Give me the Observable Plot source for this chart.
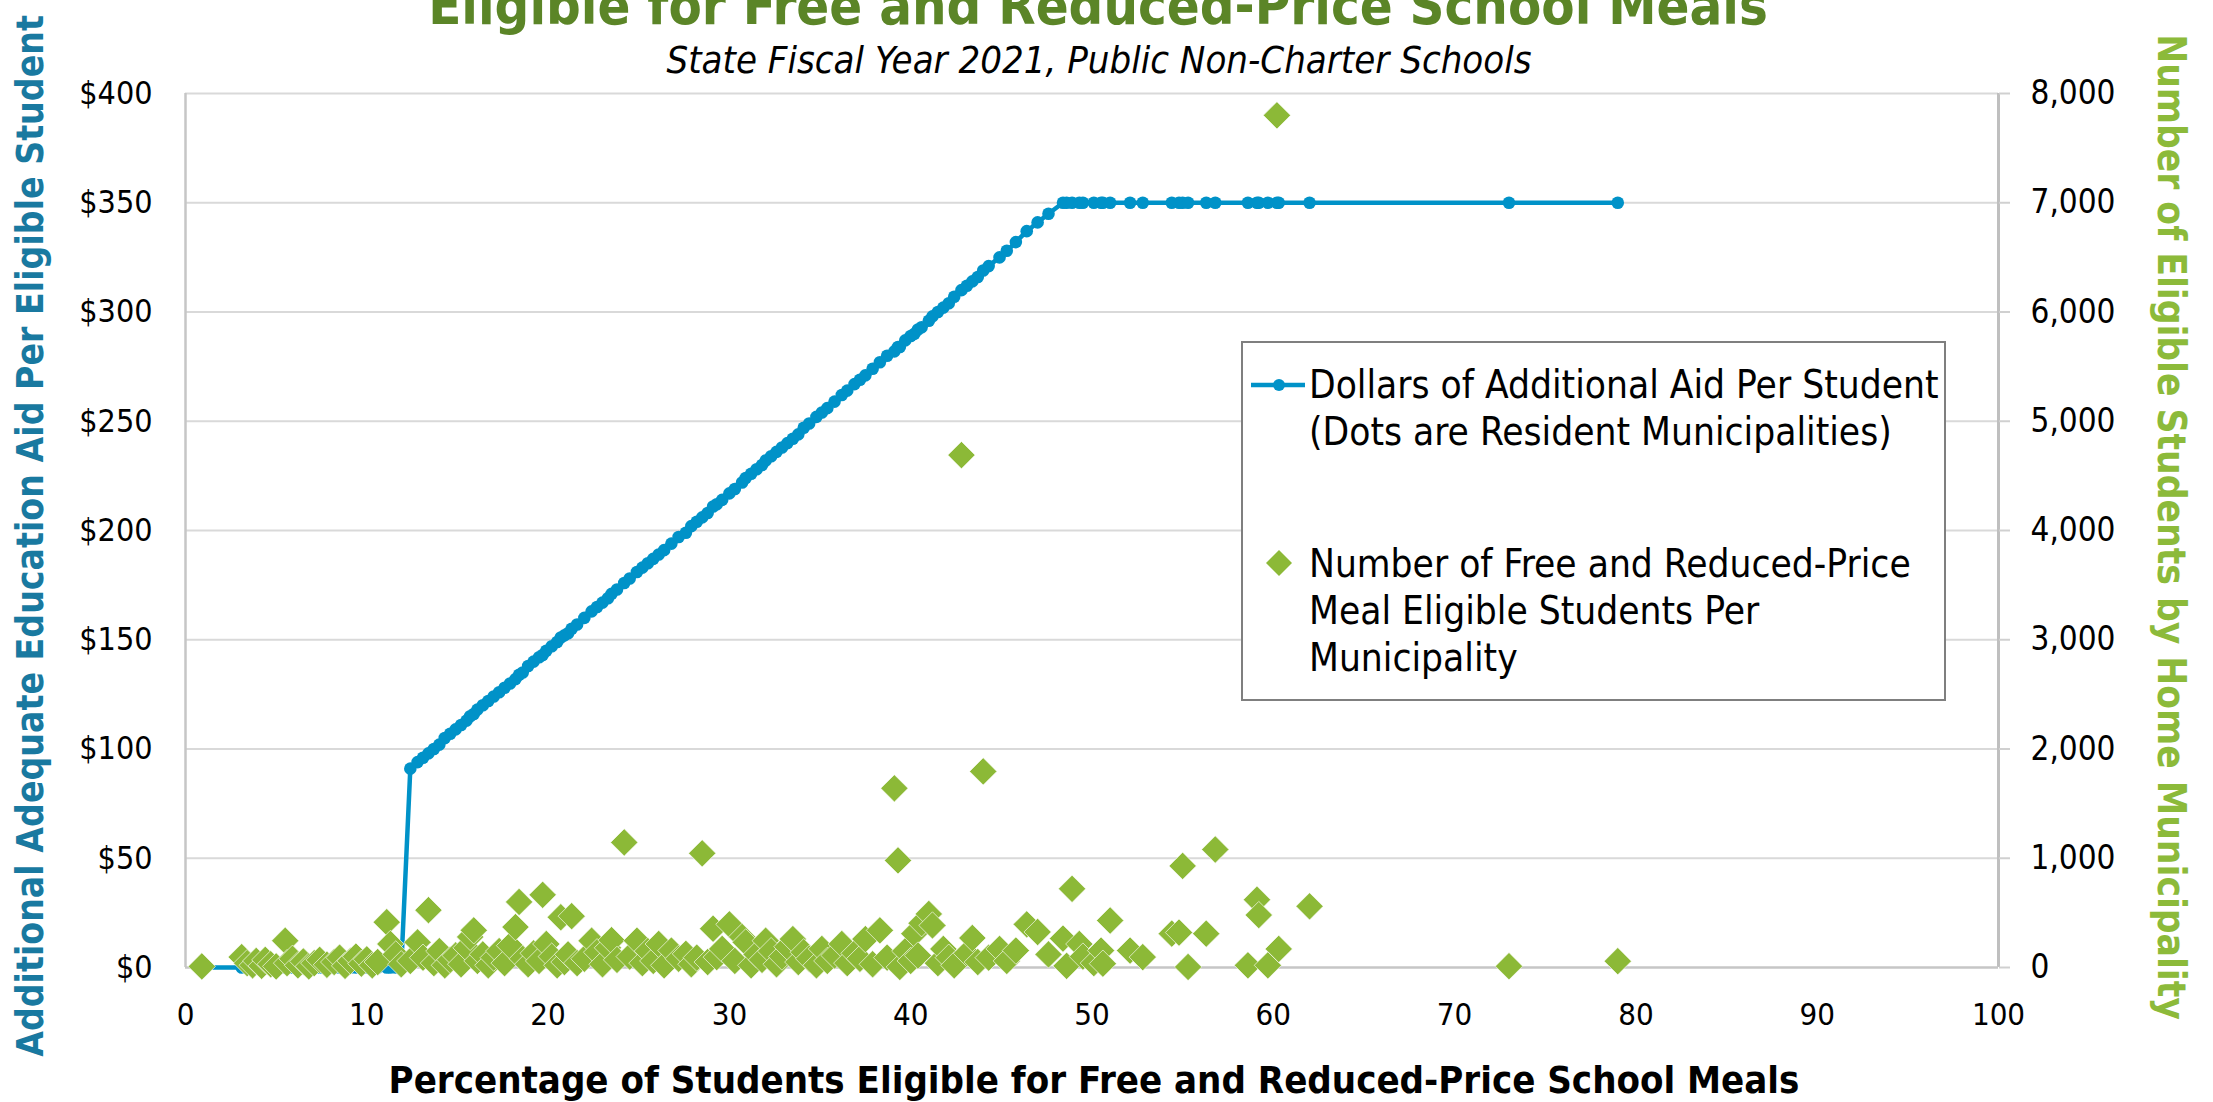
<!DOCTYPE html>
<html>
<head>
<meta charset="utf-8">
<script src="https://cdn.jsdelivr.net/npm/d3@7"></script>
<script src="https://cdn.jsdelivr.net/npm/@observablehq/plot@0.6"></script>
<style>
  html, body { margin: 0; padding: 0; background: #fff; overflow: hidden; }
  #wrap { position: relative; width: 2213px; height: 1102px; overflow: hidden; }
  #chart { position: absolute; left: 0; top: 0; }
  #overlay { position: absolute; left: 0; top: 0; pointer-events: none; }
  svg text { font-stretch: condensed; }
</style>
</head>
<body>
<div id="wrap">
  <div id="chart"></div>
  <svg id="overlay" width="2213" height="1102"></svg>
</div>
<script>
// ---- Data ----
// Percentage of students eligible for free/reduced-price meals (per resident municipality)
const pct = [
  0.9, 3.1, 3.4, 3.7, 3.9, 4.2, 4.4, 4.7, 5.0, 5.5, 5.6, 5.9, 6.2, 6.5, 6.8, 7.1, 7.4, 7.8, 8.2, 8.5,
  8.8, 9.1, 9.4, 9.7, 10.0, 10.3, 10.6, 11.1, 11.3, 11.6, 11.9,
  12.4, 12.8, 13.1, 13.4, 13.7, 14.0, 14.3, 14.6, 14.9, 15.2, 15.5, 15.7, 15.9, 16.1, 16.4, 16.7, 17.0, 17.3, 17.6, 17.9,
  18.2, 18.4, 18.6, 18.9, 19.2, 19.5, 19.7, 19.9, 20.2, 20.5, 20.7, 20.9, 21.1, 21.3, 21.6, 22.0, 22.4, 22.7, 23.0, 23.3,
  23.5, 23.8, 24.2, 24.5, 24.9, 25.2, 25.5, 25.8, 26.1, 26.4, 26.8, 27.2, 27.6, 27.9, 28.2, 28.5, 28.8, 29.1, 29.3, 29.6,
  30.0, 30.3, 30.7, 30.9, 31.2, 31.5, 31.8, 32.0, 32.3, 32.6, 32.9, 33.2, 33.5, 33.8, 34.1, 34.4, 34.8, 35.1, 35.4, 35.8,
  36.2, 36.5, 36.9, 37.2, 37.5, 37.9, 38.3, 38.7, 39.1, 39.3, 39.4, 39.7, 40.0, 40.2, 40.4, 40.6, 41.0, 41.2, 41.5, 41.8,
  42.1, 42.4, 42.8, 43.1, 43.4, 43.7, 44.0, 44.3, 44.9, 45.3, 45.8, 46.4, 47.0, 47.6,
  48.4, 48.6, 48.9, 49.3, 49.5, 50.1, 50.5, 50.6, 51.0, 52.1, 52.8, 54.4, 54.8, 55.0, 55.3, 56.3, 56.8, 58.6, 59.1, 59.2,
  59.7, 60.2, 60.3, 62.0, 73.0, 79.0
];
// Dollars of additional aid per eligible student (left axis)
const aid = [
  0, 0, 0, 0, 0, 0, 0, 0, 0, 0, 0, 0, 0, 0, 0, 0, 0, 0, 0, 0,
  0, 0, 0, 0, 0, 0, 0, 0, 0, 0, 0,
  91, 94, 96, 98, 100, 102, 105, 107, 109, 111, 113, 115, 116, 118, 120, 122, 124, 126, 128, 130,
  132, 134, 135, 138, 140, 142, 143, 145, 147, 149, 151, 152, 153, 155, 157, 160, 163, 165, 167, 169,
  171, 173, 176, 178, 181, 183, 185, 187, 189, 191, 194, 197, 199, 202, 204, 206, 208, 211, 212, 214,
  217, 219, 222, 224, 226, 228, 230, 232, 234, 236, 238, 240, 242, 244, 247, 249, 252, 254, 256, 259,
  262, 264, 267, 269, 271, 274, 277, 280, 282, 284, 284, 287, 289, 290, 292, 293, 296, 298, 300, 302,
  304, 307, 310, 312, 314, 316, 319, 321, 325, 328, 332, 337, 341, 345,
  350, 350, 350, 350, 350, 350, 350, 350, 350, 350, 350, 350, 350, 350, 350, 350, 350, 350, 350, 350,
  350, 350, 350, 350, 350, 350
];
// Number of free/reduced-price meal eligible students per municipality (right axis)
const students = [
  10, 95, 40, 20, 60, 15, 70, 30, 10, 245, 40, 80, 20, 55, 10, 40, 70, 25, 50, 90,
  15, 60, 100, 35, 75, 20, 50, 415, 215, 120, 30,
  60, 230, 90, 525, 40, 150, 20, 70, 110, 30, 180, 280, 340, 60, 120, 20, 90, 150, 40, 200,
  370, 600, 80, 30, 130, 60, 665, 215, 100, 20, 460, 50, 120, 470, 40, 80, 245, 140, 30, 180,
  250, 70, 1145, 100, 245, 40, 150, 60, 215, 20, 155, 80, 125, 30, 90, 1045, 50, 355, 95, 170,
  395, 60, 280, 230, 20, 120, 70, 245, 150, 30, 100, 190, 260, 50, 140, 80, 20, 170, 60, 110,
  215, 40, 130, 80, 260, 30, 340, 90, 1640, 980, 5, 150, 60, 310, 110, 405, 490, 385, 40, 170,
  90, 20, 4690, 130, 270, 50, 1795, 90, 170, 60, 155, 395, 325, 120,
  265, 15, 720, 215, 100, 40, 155, 35, 430, 155, 95, 310, 320, 930, 5, 310, 1080, 20, 620, 480,
  20, 7800, 170, 560, 12, 58
];

// Tick values
const xTicks = [0, 10, 20, 30, 40, 50, 60, 70, 80, 90, 100];
const aidTicks = [0, 50, 100, 150, 200, 250, 300, 350, 400];
const studentTicks = [0, 1000, 2000, 3000, 4000, 5000, 6000, 7000, 8000];

// Text
const titleText = "Eligible for Free and Reduced-Price School Meals";
const subtitleText = "State Fiscal Year 2021, Public Non-Charter Schools";
const xTitle = "Percentage of Students Eligible for Free and Reduced-Price School Meals";
const yLeftTitle = "Additional Adequate Education Aid Per Eligible Student";
const yRightTitle = "Number of Eligible Students by Home Municipality";
const legendLine = ["Dollars of Additional Aid Per Student", "(Dots are Resident Municipalities)"];
const legendDiamond = ["Number of Free and Reduced-Price", "Meal Eligible Students Per", "Municipality"];

// Colors
const BLUE = "#0092c8";
const GREEN = "#8cb937";
const FONT = '"DejaVu Sans Condensed", "DejaVu Sans", sans-serif';

// right axis maps students onto the left-axis scale
const SCALE = studentTicks[studentTicks.length - 1] / aidTicks[aidTicks.length - 1];

const data = pct.map((p, i) => ({pct: p, aid: aid[i], students: students[i], sy: students[i] / SCALE}));

const chart = Plot.plot({
  width: 2213,
  height: 1102,
  marginLeft: 185,
  marginRight: 215,
  marginTop: 93,
  marginBottom: 135,
  x: {domain: [0, 100]},
  y: {domain: [0, 400]},
  style: {fontFamily: FONT, fontSize: "32px", color: "#000", background: "transparent"},
  marks: [
    Plot.ruleY(aidTicks.filter(d => d > 0), {stroke: "#d9d9d9", strokeWidth: 2}),
    Plot.ruleX([0], {stroke: "#c6c6c6", strokeWidth: 2.5}),
    Plot.ruleX([100], {stroke: "#bfbfbf", strokeWidth: 3}),
    Plot.ruleY([0], {stroke: "#c6c6c6", strokeWidth: 2.5}),
    Plot.axisX(xTicks, {tickSize: 0, tickPadding: 35, label: null, fill: "#000", fontSize: 31}),
    Plot.axisY(aidTicks, {anchor: "left", tickSize: 0, tickPadding: 33, label: null,
      tickFormat: d => "$" + d, fill: "#000", fontSize: 32}),
    Plot.axisY(studentTicks.map(s => s / SCALE), {anchor: "right", tickSize: 11, tickPadding: 21, label: null,
      tickFormat: d => d3.format(",")(Math.round(d * SCALE)), stroke: "#d0d0d0", strokeWidth: 2, fill: "#000", fontSize: 33}),
    Plot.line(data, {x: "pct", y: "aid", stroke: BLUE, strokeWidth: 4.5}),
    Plot.dot(data, {x: "pct", y: "aid", r: 6.3, fill: BLUE}),
    Plot.dot(data, {x: "pct", y: "sy", symbol: "diamond2", r: 12.3, fill: GREEN, stroke: "#ffffff", strokeWidth: 0.8, strokeOpacity: 0.8})
  ]
});
document.getElementById("chart").appendChild(chart);

// ---- Titles and legend overlay ----
const ov = d3.select("#overlay").style("font-family", FONT);

ov.append("text").attr("x", 1098).attr("y", 24).attr("text-anchor", "middle")
  .attr("font-size", 54).attr("font-weight", "bold").attr("fill", "#5b8527").text(titleText);
ov.append("text").attr("x", 1099).attr("y", 73).attr("text-anchor", "middle")
  .attr("font-size", 38).attr("font-style", "italic").attr("fill", "#000").text(subtitleText);
ov.append("text").attr("x", 1094).attr("y", 1093).attr("text-anchor", "middle")
  .attr("font-size", 38).attr("font-weight", "bold").attr("fill", "#000").text(xTitle);
ov.append("text").attr("transform", "translate(43,536) rotate(-90)").attr("text-anchor", "middle")
  .attr("font-size", 37).attr("font-weight", "bold").attr("fill", "#1979a0").text(yLeftTitle);
ov.append("text").attr("transform", "translate(2158,527) rotate(90)").attr("text-anchor", "middle")
  .attr("font-size", 38.5).attr("font-weight", "bold").attr("fill", "#8cba3a").text(yRightTitle);

// legend
const lg = ov.append("g");
lg.append("rect").attr("x", 1242).attr("y", 342).attr("width", 703).attr("height", 358)
  .attr("fill", "#fff").attr("stroke", "#7f7f7f").attr("stroke-width", 2);
lg.append("line").attr("x1", 1251).attr("x2", 1305).attr("y1", 385).attr("y2", 385)
  .attr("stroke", BLUE).attr("stroke-width", 4.5);
lg.append("circle").attr("cx", 1279).attr("cy", 385).attr("r", 6).attr("fill", BLUE);
lg.append("path").attr("d", "M1279,550L1292,563L1279,576L1266,563Z").attr("fill", GREEN);
legendLine.forEach((t, i) => {
  lg.append("text").attr("x", 1309).attr("y", 398 + i * 47).attr("font-size", 38.5).attr("fill", "#000").text(t);
});
legendDiamond.forEach((t, i) => {
  lg.append("text").attr("x", 1309).attr("y", 577 + i * 47).attr("font-size", 38.5).attr("fill", "#000").text(t);
});
</script>
</body>
</html>
